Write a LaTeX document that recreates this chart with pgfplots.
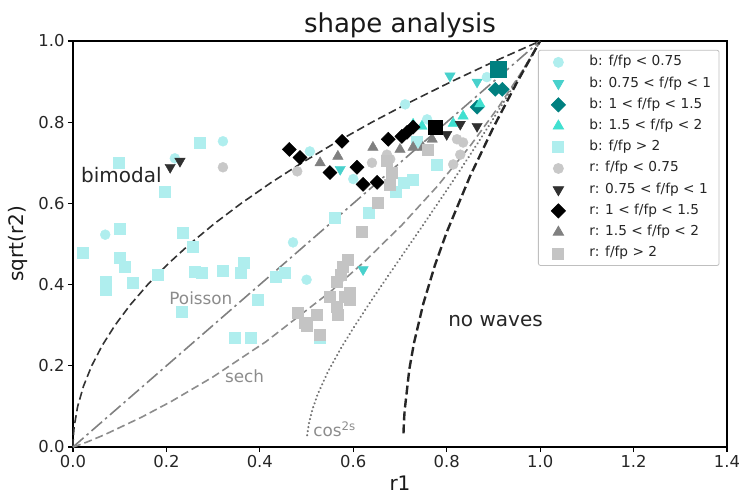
\documentclass[border=0pt]{standalone}
\usepackage{fontspec}
\setmainfont{DejaVu Sans}
\usepackage{pgfplots}
\pgfplotsset{compat=1.18}
\definecolor{bcirc}{HTML}{AFEEEE}
\definecolor{bdown}{HTML}{48D1CC}
\definecolor{bdia}{HTML}{008080}
\definecolor{bup}{HTML}{40E0D0}
\definecolor{bsq}{HTML}{AFEEEE}
\definecolor{rcirc}{HTML}{C8C8C8}
\definecolor{rdown}{HTML}{303030}
\definecolor{rdia}{HTML}{000000}
\definecolor{rup}{HTML}{808080}
\definecolor{rsq}{HTML}{C4C4C4}
\begin{document}
\begin{tikzpicture}
\begin{axis}[
  at={(0,0)}, anchor=south west,
  width=654pt, height=406pt, scale only axis,
  xmin=0, xmax=1.4, ymin=0, ymax=1,
  clip=false,
  xtick={0,0.2,0.4,0.6,0.8,1.0,1.2,1.4},
  ytick={0,0.2,0.4,0.6,0.8,1.0},
  tick pos=left, tick align=outside, major tick length=5pt,
  tick style={black, line width=1.1pt},
  axis line style={black, line width=1.3pt},
  /pgf/number format/assume math mode=true,
  ticklabel style={font=\fontsize{16.4}{19}\selectfont, text=black!85},
  xticklabel={\pgfmathprintnumber[fixed,fixed zerofill,precision=1]{\tick}},
  yticklabel={\pgfmathprintnumber[fixed,fixed zerofill,precision=1]{\tick}},
  legend cell align=left,
  legend image code/.code={\draw[#1] plot coordinates {(0pt,0pt)}; \path[draw=none,fill=none] (-12pt,-6pt) rectangle (12pt,6pt);},
  legend style={at={(axis description cs:0.711,0.978)}, anchor=north west,
    draw=black!25, line width=0.8pt, rounded corners=2pt,
    font=\fontsize{13.7}{16}\selectfont, text=black!85,
    inner xsep=8pt, inner ysep=5pt, row sep=7.2pt, column sep=19pt,
    nodes={inner sep=0pt, text height=10.5pt, text depth=3.5pt}},
]
% b: f/fp < 0.75
\addplot[only marks, mark=*, mark size=5pt, color=bcirc] coordinates {
(0.069,0.523) (0.218,0.711) (0.321,0.753) (0.471,0.504) (0.500,0.412)
(0.507,0.728) (0.600,0.660) (0.711,0.844) (0.758,0.807) (0.886,0.911)};
\addlegendentry{b: f/fp < 0.75}
% b: 0.75 < f/fp < 1
\addplot[only marks, mark=triangle*, mark size=6pt, mark options={rotate=180}, color=bdown] coordinates {
(0.807,0.914) (0.865,0.899) (0.572,0.684) (0.621,0.437)};
\addlegendentry{b: 0.75 < f/fp < 1}
% b: 1 < f/fp < 1.5
\addplot[only marks, mark=square*, mark size=5pt, mark options={rotate=45}, color=bdia] coordinates {
(0.904,0.881) (0.919,0.881) (0.865,0.837)};
\addlegendentry{b: 1 < f/fp < 1.5}
% b: 1.5 < f/fp < 2
\addplot[only marks, mark=triangle*, mark size=6pt, color=bup] coordinates {
(0.835,0.815) (0.814,0.797) (0.871,0.845) (0.728,0.795) (0.747,0.790)};
\addlegendentry{b: 1.5 < f/fp < 2}
% b: f/fp > 2
\addplot[only marks, mark=square*, mark size=5.5pt, color=bsq] coordinates {
(0.021,0.479) (0.097,0.700) (0.272,0.750) (0.197,0.630) (0.101,0.538)
(0.234,0.528) (0.257,0.494) (0.101,0.467) (0.111,0.445) (0.128,0.405)
(0.069,0.407) (0.069,0.388) (0.182,0.425) (0.261,0.432) (0.276,0.430)
(0.321,0.435) (0.358,0.430) (0.366,0.454) (0.233,0.333) (0.396,0.363)
(0.347,0.269) (0.381,0.270) (0.433,0.420) (0.454,0.430) (0.561,0.565)
(0.632,0.578) (0.529,0.270) (0.690,0.630) (0.707,0.652) (0.728,0.659)
(0.779,0.696) (0.736,0.753)};
\addlegendentry{b: f/fp > 2}
% r: f/fp < 0.75
\addplot[only marks, mark=*, mark size=5pt, color=rcirc] coordinates {
(0.321,0.689) (0.480,0.679) (0.640,0.700) (0.672,0.720) (0.679,0.709)
(0.822,0.758) (0.835,0.750) (0.829,0.720) (0.814,0.696)};
\addlegendentry{r: f/fp < 0.75}
% r: 0.75 < f/fp < 1
\addplot[only marks, mark=triangle*, mark size=6pt, mark options={rotate=180}, color=rdown] coordinates {
(0.208,0.689) (0.229,0.704) (0.829,0.795) (0.865,0.790) (0.800,0.770)};
\addlegendentry{r: 0.75 < f/fp < 1}
% r: 1 < f/fp < 1.5
\addplot[only marks, mark=square*, mark size=5pt, mark options={rotate=45}, color=rdia] coordinates {
(0.463,0.733) (0.486,0.713) (0.576,0.753) (0.550,0.676) (0.608,0.689)
(0.621,0.647) (0.651,0.652) (0.675,0.758) (0.704,0.765) (0.715,0.775)
(0.728,0.788)};
\addlegendentry{r: 1 < f/fp < 1.5}
% r: 1.5 < f/fp < 2
\addplot[only marks, mark=triangle*, mark size=6pt, color=rup] coordinates {
(0.529,0.700) (0.567,0.716) (0.642,0.738) (0.700,0.733) (0.728,0.738)
(0.749,0.738) (0.769,0.758)};
\addlegendentry{r: 1.5 < f/fp < 2}
% r: f/fp > 2
\addplot[only marks, mark=square*, mark size=5.5pt, color=rsq] coordinates {
(0.653,0.602) (0.679,0.647) (0.672,0.704) (0.683,0.676) (0.760,0.733)
(0.619,0.531) (0.587,0.462) (0.578,0.444) (0.572,0.425) (0.565,0.407)
(0.593,0.380) (0.593,0.363) (0.582,0.370) (0.550,0.370) (0.565,0.346)
(0.567,0.326) (0.482,0.331) (0.497,0.306) (0.522,0.326) (0.529,0.277)
(0.500,0.300)};
\addlegendentry{r: f/fp > 2}
% larger overlapping marks
\addplot[forget plot, only marks, mark=square*, mark size=8pt, color=bdia] coordinates {(0.910,0.931)};
\addplot[forget plot, only marks, mark=square*, mark size=7pt, color=black] coordinates {(0.775,0.788)};
% curves
\addplot[forget plot, color=black!80, line width=1.6pt, dash pattern=on 8pt off 4pt] coordinates {
(0,0) (0.000625,0.025) (0.0025,0.05) (0.01,0.1) (0.0225,0.15) (0.04,0.2) (0.0625,0.25)
(0.09,0.3) (0.1225,0.35) (0.16,0.4) (0.2025,0.45) (0.25,0.5) (0.3025,0.55)
(0.36,0.6) (0.4225,0.65) (0.49,0.7) (0.5625,0.75) (0.64,0.8) (0.7225,0.85)
(0.81,0.9) (0.9025,0.95) (1,1)};
\addplot[forget plot, color=black!50, line width=1.6pt, dash pattern=on 14pt off 4pt on 2.5pt off 4pt] coordinates {
(0,0) (1,1)};
\addplot[forget plot, color=black!45, line width=1.6pt, dash pattern=on 8pt off 4pt] coordinates {
(0,0) (0.0053674,0.0019) (0.029745,0.012143) (0.067383,0.030133) (0.14658,0.073263)
(0.21157,0.11299) (0.29946,0.17247) (0.41321,0.25958) (0.55144,0.38286)
(0.62715,0.45997) (0.70446,0.54723) (0.78032,0.64281) (0.85092,0.74259)
(0.91205,0.83932) (0.95951,0.92245) (0.98516,0.97079) (0.99833,0.99667) (1,1)};
\addplot[forget plot, color=black!55, line width=2.3pt, line cap=round, dash pattern=on 0.1pt off 4pt] coordinates {
(0.50125,0.02888) (0.50495,0.05783) (0.51220,0.09163) (0.52381,0.12999)
(0.54545,0.18464) (0.57447,0.24499) (0.6,0.29277) (0.63636,0.35675)
(0.66667,0.40825) (0.71429,0.48795) (0.75,0.54772) (0.8,0.63246)
(0.83333,0.69007) (0.875,0.76376) (0.90909,0.82572) (0.9375,0.87867)
(0.96154,0.9245) (0.98039,0.96116) (0.990099,0.9803) (1,1)};
\addplot[forget plot, color=black!85, line width=2.4pt, dash pattern=on 9pt off 4pt] coordinates {
(0.7075,0.0334) (0.708,0.0503) (0.709,0.0732) (0.71,0.09055) (0.72,0.19183)
(0.73,0.25652) (0.75,0.35355) (0.775,0.44861) (0.8,0.52915) (0.85,0.66708)
(0.9,0.7874) (0.95,0.89722) (1,1)};
% annotations
\node[anchor=base west, inner sep=0pt, font=\fontsize{20}{24}\selectfont, text=black!85] at (axis cs:0.017,0.652) {bimodal};
\node[anchor=base west, inner sep=0pt, font=\fontsize{20}{24}\selectfont, text=black!85] at (axis cs:0.803,0.296) {no waves};
\node[anchor=base west, inner sep=0pt, font=\fontsize{16.8}{20}\selectfont, text=black!45] at (axis cs:0.206,0.350) {Poisson};
\node[anchor=base west, inner sep=0pt, font=\fontsize{16.8}{20}\selectfont, text=black!45] at (axis cs:0.325,0.160) {sech};
\node[anchor=base west, inner sep=0pt, font=\fontsize{16.8}{20}\selectfont, text=black!45] at (axis cs:0.514,0.025) {cos\textsuperscript{2s}};
\end{axis}
\node[anchor=base, inner sep=0pt, font=\fontsize{26}{31}\selectfont, text=black!90] at (327pt,414pt) {shape analysis};
\node[anchor=base, inner sep=0pt, font=\fontsize{20}{24}\selectfont, text=black!90] at (327pt,-43pt) {r1};
\node[anchor=base, rotate=90, inner sep=0pt, font=\fontsize{20}{24}\selectfont, text=black!90] at (-49.5pt,203pt) {sqrt(r2)};
\pgfresetboundingbox
\path[use as bounding box] (-73pt,-49pt) rectangle (666pt,447pt);
\end{tikzpicture}
\end{document}
